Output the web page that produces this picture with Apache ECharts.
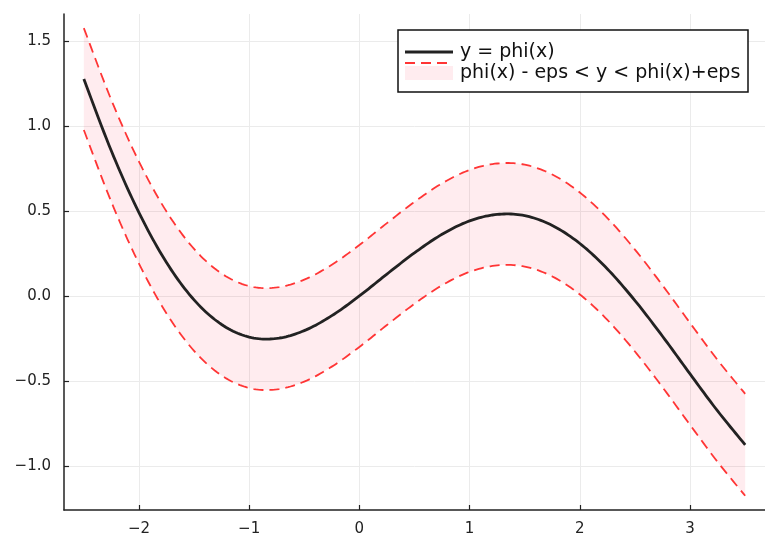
<!DOCTYPE html>
<html>
<head>
<meta charset="utf-8">
<script src="https://cdn.jsdelivr.net/npm/echarts@6/dist/echarts.min.js"></script>
<style>
html,body{margin:0;padding:0;background:#fff;}
#chart{width:765px;height:537px;}
</style>
</head>
<body>
<div id="chart"></div>
<script>
// ---- data ----
const xs  = [-2.5, -2.25, -2.0, -1.75, -1.5, -1.25, -1.0, -0.75, -0.5, -0.25, 0.0, 0.25, 0.5, 0.75, 1.0, 1.25, 1.5, 1.75, 2.0, 2.25, 2.5, 2.75, 3.0, 3.25, 3.5];
const phi = [1.277, 0.853, 0.491, 0.197, -0.023, -0.168, -0.242, -0.250, -0.204, -0.116, 0.0, 0.129, 0.254, 0.363, 0.442, 0.480, 0.473, 0.415, 0.309, 0.159, -0.027, -0.237, -0.459, -0.677, -0.876];
const eps = 0.3;
const xTicks = [-2, -1, 0, 1, 2, 3];
const yTicks = [-1.0, -0.5, 0.0, 0.5, 1.0, 1.5];
const legendNames = ['y = phi(x)', 'phi(x) - eps < y < phi(x)+eps'];

const lowerData = xs.map((x, i) => [x, phi[i] - eps]);
const upperData = xs.map((x, i) => [x, phi[i] + eps]);
const phiData   = xs.map((x, i) => [x, phi[i]]);

const fmtMinus = (s) => s.replace('-', '\u2212');
const red = '#ff3535';
const pink = 'rgba(255,0,40,0.075)';
const dark = '#222';

// Catmull-Rom resampling of pixel points (drawing only)
function splinePx(P, steps) {
  const out = [];
  const n = P.length;
  for (let i = 0; i < n - 1; i++) {
    const p0 = P[Math.max(i - 1, 0)], p1 = P[i], p2 = P[i + 1], p3 = P[Math.min(i + 2, n - 1)];
    for (let s = 0; s < steps; s++) {
      const t = s / steps, t2 = t * t, t3 = t2 * t;
      const f = (a, b, c, d) => 0.5 * ((2 * b) + (-a + c) * t + (2 * a - 5 * b + 4 * c - d) * t2 + (-a + 3 * b - 3 * c + d) * t3);
      out.push([f(p0[0], p1[0], p2[0], p3[0]), f(p0[1], p1[1], p2[1], p3[1])]);
    }
  }
  out.push(P[n - 1]);
  return out;
}

function curveSeries(name, data, style, z) {
  return {
    name: name, type: 'custom', coordinateSystem: 'cartesian2d', silent: true, z: z,
    data: [data[0]],
    renderItem: function (params, api) {
      const px = data.map((p) => api.coord(p));
      return {type: 'polyline', shape: {points: splinePx(px, 12)},
        style: Object.assign({fill: null}, style)};
    }
  };
}

const chart = echarts.init(document.getElementById('chart'), null, {renderer: 'canvas'});
chart.setOption({
  backgroundColor: '#ffffff',
  animation: false,
  grid: {left: 64, top: 14, width: 707, height: 496, containLabel: false},
  xAxis: {
    type: 'value', min: -2.68, max: 3.68,
    axisLine: {show: true, onZero: false, lineStyle: {color: dark, width: 1.5}},
    axisTick: {show: true, inside: true, length: 5, customValues: xTicks, lineStyle: {color: dark, width: 1.2}},
    axisLabel: {customValues: xTicks, margin: 12, color: dark, fontSize: 15, fontFamily: 'DejaVu Sans',
      formatter: (v) => fmtMinus(String(v))},
    splitLine: {show: true, lineStyle: {color: '#ebebeb', width: 1}}
  },
  yAxis: {
    type: 'value', min: -1.26, max: 1.66,
    axisLine: {show: true, onZero: false, lineStyle: {color: dark, width: 1.5}},
    axisTick: {show: true, inside: true, length: 5, customValues: yTicks, lineStyle: {color: dark, width: 1.2}},
    axisLabel: {customValues: yTicks, margin: 13, color: dark, fontSize: 15, fontFamily: 'DejaVu Sans',
      formatter: (v) => fmtMinus(v.toFixed(1))},
    splitLine: {show: true, lineStyle: {color: '#ebebeb', width: 1}}
  },
  series: [
    {
      name: 'band', type: 'custom', coordinateSystem: 'cartesian2d', silent: true, z: 1,
      data: [[xs[0], phi[0]]],
      renderItem: function (params, api) {
        const up = upperData.map((p) => api.coord(p));
        const lo = lowerData.map((p) => api.coord(p));
        const pts = splinePx(up, 12).concat(splinePx(lo, 12).reverse());
        return {type: 'polygon', shape: {points: pts}, style: {fill: pink, stroke: null}};
      }
    },
    curveSeries('lower', lowerData, {stroke: red, lineWidth: 1.8, lineDash: [10, 6]}, 3),
    curveSeries(legendNames[1], upperData, {stroke: red, lineWidth: 1.8, lineDash: [10, 6]}, 3),
    curveSeries(legendNames[0], phiData, {stroke: dark, lineWidth: 2.8}, 4)
  ],
  graphic: [
    {type: 'rect', z: 10, shape: {x: 398, y: 30, width: 350, height: 62},
      style: {fill: '#fff', stroke: '#111', lineWidth: 1.5}},
    {type: 'line', z: 11, shape: {x1: 405, y1: 52, x2: 453, y2: 52}, style: {stroke: dark, lineWidth: 3}},
    {type: 'rect', z: 11, shape: {x: 405, y: 66, width: 48, height: 14}, style: {fill: pink}},
    {type: 'line', z: 12, shape: {x1: 405, y1: 63, x2: 453, y2: 63}, style: {stroke: red, lineWidth: 1.8, lineDash: [10, 6]}},
    {type: 'text', z: 12, x: 460, y: 52, style: {text: legendNames[0], fill: '#111', font: '19px "DejaVu Sans"', textVerticalAlign: 'middle', verticalAlign: 'middle'}},
    {type: 'text', z: 12, x: 460, y: 73, style: {text: legendNames[1], fill: '#111', font: '19px "DejaVu Sans"', textVerticalAlign: 'middle', verticalAlign: 'middle'}}
  ]
});
</script>
</body>
</html>
